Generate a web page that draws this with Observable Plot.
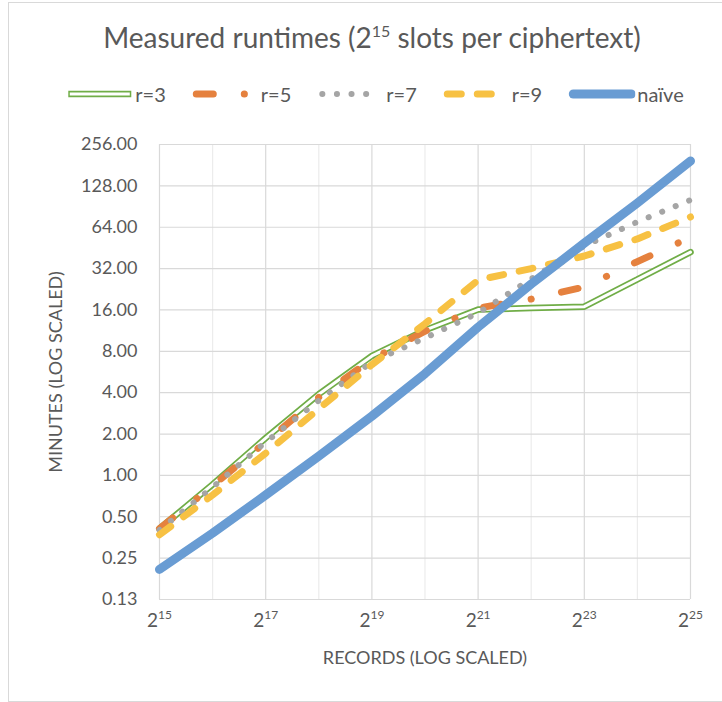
<!DOCTYPE html>
<html>
<head>
<meta charset="utf-8">
<script src="https://cdn.jsdelivr.net/npm/d3@7"></script>
<script src="https://cdn.jsdelivr.net/npm/@observablehq/plot@0.6"></script>
<style>
  body { margin: 0; background: #fff; }
  #wrap { position: relative; width: 722px; height: 702px; overflow: hidden; font-family: Lato, "Open Sans", sans-serif; color: #595959; }
  #border { position: absolute; left: 8px; top: 2px; width: 730px; height: 698px; border: 1px solid #d9d9d9; }
  #title { position: absolute; top: 20px; left: 372px; transform: translateX(-50%); white-space: nowrap; font-size: 28px; font-weight: 400; color: #595959; line-height: 34px; }
  #title sup { font-size: 16px; vertical-align: 0; position: relative; top: -11px; }
  #legend { position: absolute; top: 83px; left: 375px; transform: translateX(-50%); display: flex; gap: 26px; white-space: nowrap; font-size: 20px; line-height: 22px; }
  .item { display: flex; align-items: center; gap: 2px; }
  #chart { position: absolute; top: 110px; left: 0; }
</style>
</head>
<body>
<div id="wrap">
  <div id="border"></div>
  <div id="title">Measured runtimes (2<sup>15</sup> slots per ciphertext)</div>
  <div id="legend"></div>
  <div id="chart"></div>
</div>
<script>
// Records (x values) and series (minutes)
const records = [32768, 65536, 131072, 262144, 524288, 1048576, 2097152, 4194304, 8388608, 16777216, 33554432];
const r3    = [0.41, 0.86, 1.87, 3.9, 7.4, 11.4, 16.1, 16.5, 16.9, 26.7, 42.2];
const r5    = [0.41, 0.84, 1.75, 3.7, 7.0, 11.2, 16.5, 19.2, 23.5, 36, 54];
const r7    = [0.40, 0.82, 1.75, 3.5, 6.7, 10.0, 15.2, 26.9, 46.8, 70, 101];
const r9    = [0.37, 0.72, 1.45, 3.05, 6.4, 12.7, 26.4, 32, 39.5, 52.6, 76];
const naive = [0.207, 0.38, 0.72, 1.38, 2.7, 5.5, 12, 24.7, 49, 96, 194];

const seriesNames = ["r=3", "r=5", "r=7", "r=9", "naïve"];
const xTicks = [32768, 131072, 524288, 2097152, 8388608, 33554432];
const xMinorGrid = [65536, 262144, 1048576, 4194304, 16777216];
const yTicks = [0.125, 0.25, 0.5, 1, 2, 4, 8, 16, 32, 64, 128, 256];

const colors = { "r=3": "#70AD47", "r=5": "#E5813E", "r=7": "#A5A5A5", "r=9": "#F7C143", "naïve": "#699CD3" };
const styles = {
  "r=5": { strokeWidth: 7, strokeDasharray: "17,31,0.1,31" },
  "r=7": { strokeWidth: 6, strokeDasharray: "0.1,14.5" },
  "r=9": { strokeWidth: 7, strokeDasharray: "14,16" },
  "naïve": { strokeWidth: 9, strokeDasharray: null }
};

const toRows = vals => records.map((x, i) => ({ x, y: vals[i] }));
const data = { "r=3": toRows(r3), "r=5": toRows(r5), "r=7": toRows(r7), "r=9": toRows(r9), "naïve": toRows(naive) };

const lineMarks = [];
// r=3 double line
lineMarks.push(Plot.line(data["r=3"], { x: "x", y: "y", stroke: colors["r=3"], strokeWidth: 6.5, strokeLinejoin: "miter" }));
lineMarks.push(Plot.line(data["r=3"], { x: "x", y: "y", stroke: "white", strokeWidth: 3, strokeLinejoin: "miter" }));
for (const name of ["r=5", "r=7", "r=9", "naïve"]) {
  const s = styles[name];
  lineMarks.push(Plot.line(data[name], {
    x: "x", y: "y", stroke: colors[name], strokeWidth: s.strokeWidth,
    strokeDasharray: s.strokeDasharray || undefined, strokeLinecap: "round", strokeLinejoin: "round"
  }));
}

const xFmt = d => "2^" + Math.round(Math.log2(d));
const yFmt = d3.format(".2f");

const chart = Plot.plot({
  width: 722,
  height: 580,
  marginTop: 34,
  marginBottom: 91,
  marginLeft: 159,
  marginRight: 32,
  style: { fontFamily: "Lato, 'Open Sans', sans-serif", fontSize: "18px", color: "#595959", background: "transparent", overflow: "visible" },
  x: { type: "log", base: 2, domain: [32768, 33554432], ticks: xTicks, tickFormat: xFmt },
  y: { type: "log", base: 2, domain: [0.125, 256], ticks: yTicks, tickFormat: yFmt },
  marks: [
    Plot.ruleX(xMinorGrid, { stroke: "#ececec", strokeWidth: 1.2 }),
    Plot.ruleX(xTicks, { stroke: "#d9d9d9", strokeWidth: 1.2 }),
    Plot.ruleY(yTicks, { stroke: "#d9d9d9", strokeWidth: 1.2 }),
    Plot.axisX({ ticks: xTicks, tickFormat: xFmt, tickSize: 0, tickPadding: 14, label: null, fontSize: 19 }),
    Plot.axisY({ ticks: yTicks, tickFormat: yFmt, tickSize: 0, tickPadding: 22, label: null }),
    ...lineMarks,
    Plot.text(["RECORDS (LOG SCALED)"], { frameAnchor: "bottom", dy: 59, lineAnchor: "middle", textAnchor: "middle", fontSize: 18, fill: "#595959" }),
    Plot.text(["MINUTES (LOG SCALED)"], { frameAnchor: "left", dx: -103, rotate: -90, lineAnchor: "middle", textAnchor: "middle", fontSize: 18, fill: "#595959" })
  ]
});

// superscript x tick labels
const ns = "http://www.w3.org/2000/svg";
chart.querySelectorAll('g[aria-label="x-axis tick label"] text').forEach(t => {
  const parts = t.textContent.split("^");
  if (parts.length !== 2) return;
  t.textContent = "";
  const a = document.createElementNS(ns, "tspan"); a.textContent = parts[0]; t.appendChild(a);
  const s = document.createElementNS(ns, "tspan"); s.textContent = parts[1]; s.setAttribute("dy", "-8"); s.setAttribute("font-size", "12"); t.appendChild(s);
});
document.getElementById("chart").appendChild(chart);

// legend
const legend = document.getElementById("legend");
for (const name of seriesNames) {
  const item = document.createElement("div"); item.className = "item";
  let sw;
  if (name === "r=3") {
    sw = `<svg width="67" height="14"><line x1="2" x2="65" y1="7" y2="7" stroke="${colors[name]}" stroke-width="6.5"/><line x1="3.5" x2="63.5" y1="7" y2="7" stroke="white" stroke-width="3"/></svg>`;
  } else {
    const s = styles[name];
    sw = `<svg width="67" height="14"><line x1="5" x2="63" y1="7" y2="7" stroke="${colors[name]}" stroke-width="${s.strokeWidth}" stroke-linecap="round" ${s.strokeDasharray ? `stroke-dasharray="${s.strokeDasharray}"` : ""}/></svg>`;
  }
  item.innerHTML = sw + `<span>${name}</span>`;
  legend.appendChild(item);
}
</script>
</body>
</html>
